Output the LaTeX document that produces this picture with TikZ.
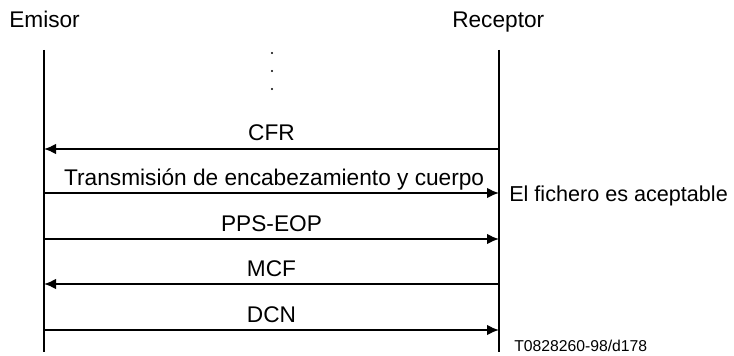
\documentclass[tikz,border=0pt]{standalone}
\usepackage{fontspec}
\setmainfont{Liberation Sans}
\usepackage{tikz}
\usetikzlibrary{arrows.meta}

\begin{document}
\begin{tikzpicture}[
    x=0.75pt, y=-0.75pt,
    every node/.style={inner sep=0pt, font=\fontsize{17}{20}\selectfont},
    lifeline/.style={line width=1.5pt},
    msg/.style={-{Latex[length=9pt, width=8pt]}, line width=1.5pt},
    lbl/.style={anchor=base, yshift=6pt}
]
\useasboundingbox (0,0) rectangle (734,356);

% heads
\node (emisor) [anchor=base west] at (9,28) {Emisor};
\node (receptor) [anchor=base west] at (452,28) {Receptor};

% lifelines
\coordinate (eTop) at (44,50);
\coordinate (eBot) at (44,352);
\coordinate (rTop) at (499,50);
\coordinate (rBot) at (499,352);
\draw[lifeline] (eTop) -- (eBot);
\draw[lifeline] (rTop) -- (rBot);

% omitted exchanges
\foreach \y in {53,71,89}
    \fill (272,\y) circle (0.9pt);

% messages
\coordinate (cfrE) at (44,149);   \coordinate (cfrR) at (499,149);
\coordinate (txE) at (44,193);    \coordinate (txR) at (499,193);
\coordinate (ppsE) at (44,239);   \coordinate (ppsR) at (499,239);
\coordinate (mcfE) at (44,284);   \coordinate (mcfR) at (499,284);
\coordinate (dcnE) at (44,330);   \coordinate (dcnR) at (499,330);

\draw[msg] (cfrR) -- node[lbl] {CFR} (cfrE);
\draw[msg] (txE) -- node[lbl, xshift=2pt] {Transmisión de encabezamiento y cuerpo} (txR);
\draw[msg] (ppsE) -- node[lbl] {PPS-EOP} (ppsR);
\draw[msg] (mcfR) -- node[lbl] {MCF} (mcfE);
\draw[msg] (dcnE) -- node[lbl] {DCN} (dcnR);

% notes
\node (accept) [anchor=base west, font=\fontsize{16.2}{19}\selectfont] at (509,201) {El fichero es aceptable};
\node (ref) [anchor=base west, font=\fontsize{11.8}{14}\selectfont] at (514,351) {T0828260-98/d178};
\end{tikzpicture}
\end{document}
